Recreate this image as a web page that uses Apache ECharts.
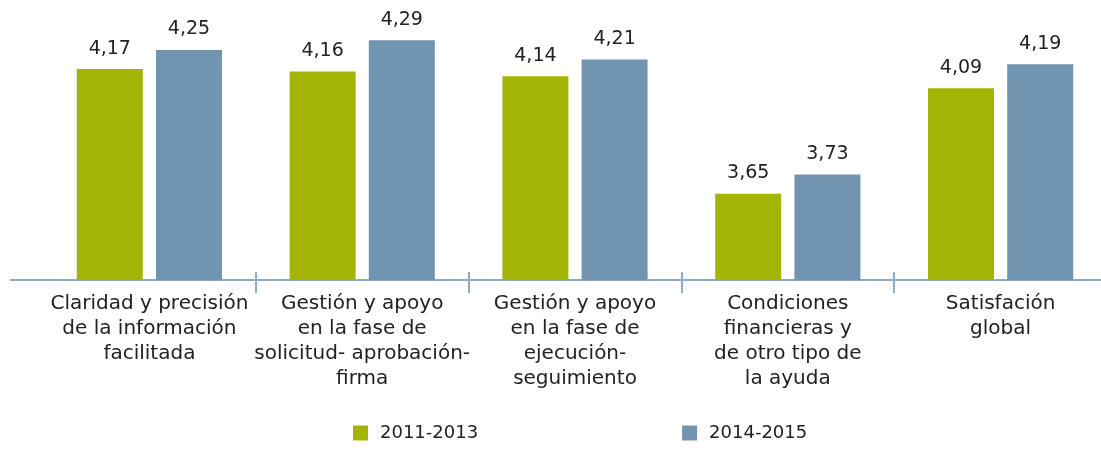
<!DOCTYPE html>
<html>
<head>
<meta charset="utf-8">
<script src="https://cdn.jsdelivr.net/npm/echarts@6/dist/echarts.min.js"></script>
<style>
  html, body { margin: 0; padding: 0; background: #fff; }
  #chart { width: 1101px; height: 450px; }
</style>
</head>
<body>
<div id="chart"></div>
<script>
// categorías del eje x
const categories = [
  'Claridad y precisión\nde la información\nfacilitada',
  'Gestión y apoyo\nen la fase de\nsolicitud- aprobación-\nfirma',
  'Gestión y apoyo\nen la fase de\nejecución-\nseguimiento',
  'Condiciones\nfinancieras y\nde otro tipo de\nla ayuda',
  'Satisfación\nglobal'
]
const seriesNames = ['2011-2013', '2014-2015']
const values2011 = [4.17, 4.16, 4.14, 3.65, 4.09]
const values2014 = [4.25, 4.29, 4.21, 3.73, 4.19]

const font = 'DejaVu Sans'
const green = '#a4b404'
const blue = '#7194b0'
const axisColor = '#8eacc6'

const chart = echarts.init(document.getElementById('chart'))

const valueLabel = {
  show: true,
  position: 'top',
  distance: 11,
  fontFamily: font,
  fontSize: 19,
  color: '#222',
  formatter: p => p.value.toFixed(2).replace('.', ',')
}

chart.setOption({
  backgroundColor: '#fff',
  animation: false,
  grid: [
    // el área de categorías sobresale un poco por la derecha, como en el original
    { left: 43, width: 1064, top: 14, height: 266, outerBoundsMode: 'none' },
    // sólo para la línea del eje que empieza más a la izquierda
    { left: 11, right: 0, top: 14, height: 266, outerBoundsMode: 'none' }
  ],
  legend: {
    data: seriesNames,
    left: 348,
    bottom: 3,
    itemWidth: 15,
    itemHeight: 15,
    itemGap: 204,
    icon: 'rect',
    textStyle: { fontFamily: font, fontSize: 18, color: '#222', padding: [0, 0, 0, 7] }
  },
  xAxis: [
    {
      type: 'category',
      gridIndex: 0,
      data: categories,
      axisLine: { show: false },
      axisTick: {
        show: true,
        length: 13,
        interval: (i) => i !== 0,
        lineStyle: { color: axisColor, width: 2 }
      },
      axisLabel: {
        interval: 0,
        margin: 11,
        fontFamily: font,
        fontSize: 20,
        lineHeight: 25,
        color: '#222',
        align: 'center'
      }
    },
    {
      type: 'category',
      gridIndex: 0,
      position: 'bottom',
      data: categories,
      axisLine: { show: false },
      axisTick: {
        show: true,
        inside: true,
        length: 8,
        interval: (i) => i !== 0,
        lineStyle: { color: axisColor, width: 2 }
      },
      axisLabel: { show: false }
    },
    {
      type: 'value',
      gridIndex: 1,
      axisLine: { show: true, onZero: false, lineStyle: { color: axisColor, width: 2 } },
      axisTick: { show: false },
      axisLabel: { show: false },
      splitLine: { show: false }
    }
  ],
  yAxis: [
    {
      type: 'value',
      gridIndex: 0,
      min: 3.29,
      max: 4.4,
      show: false,
      splitLine: { show: false }
    },
    {
      type: 'value',
      gridIndex: 1,
      show: false,
      splitLine: { show: false }
    }
  ],
  series: [
    {
      name: seriesNames[0],
      type: 'bar',
      xAxisIndex: 0,
      yAxisIndex: 0,
      barWidth: 66,
      barGap: '20%',
      itemStyle: { color: green },
      label: valueLabel,
      data: values2011
    },
    {
      name: seriesNames[1],
      type: 'bar',
      xAxisIndex: 0,
      yAxisIndex: 0,
      barWidth: 66,
      barGap: '20%',
      itemStyle: { color: blue },
      label: valueLabel,
      data: values2014
    }
  ]
})
</script>
</body>
</html>
